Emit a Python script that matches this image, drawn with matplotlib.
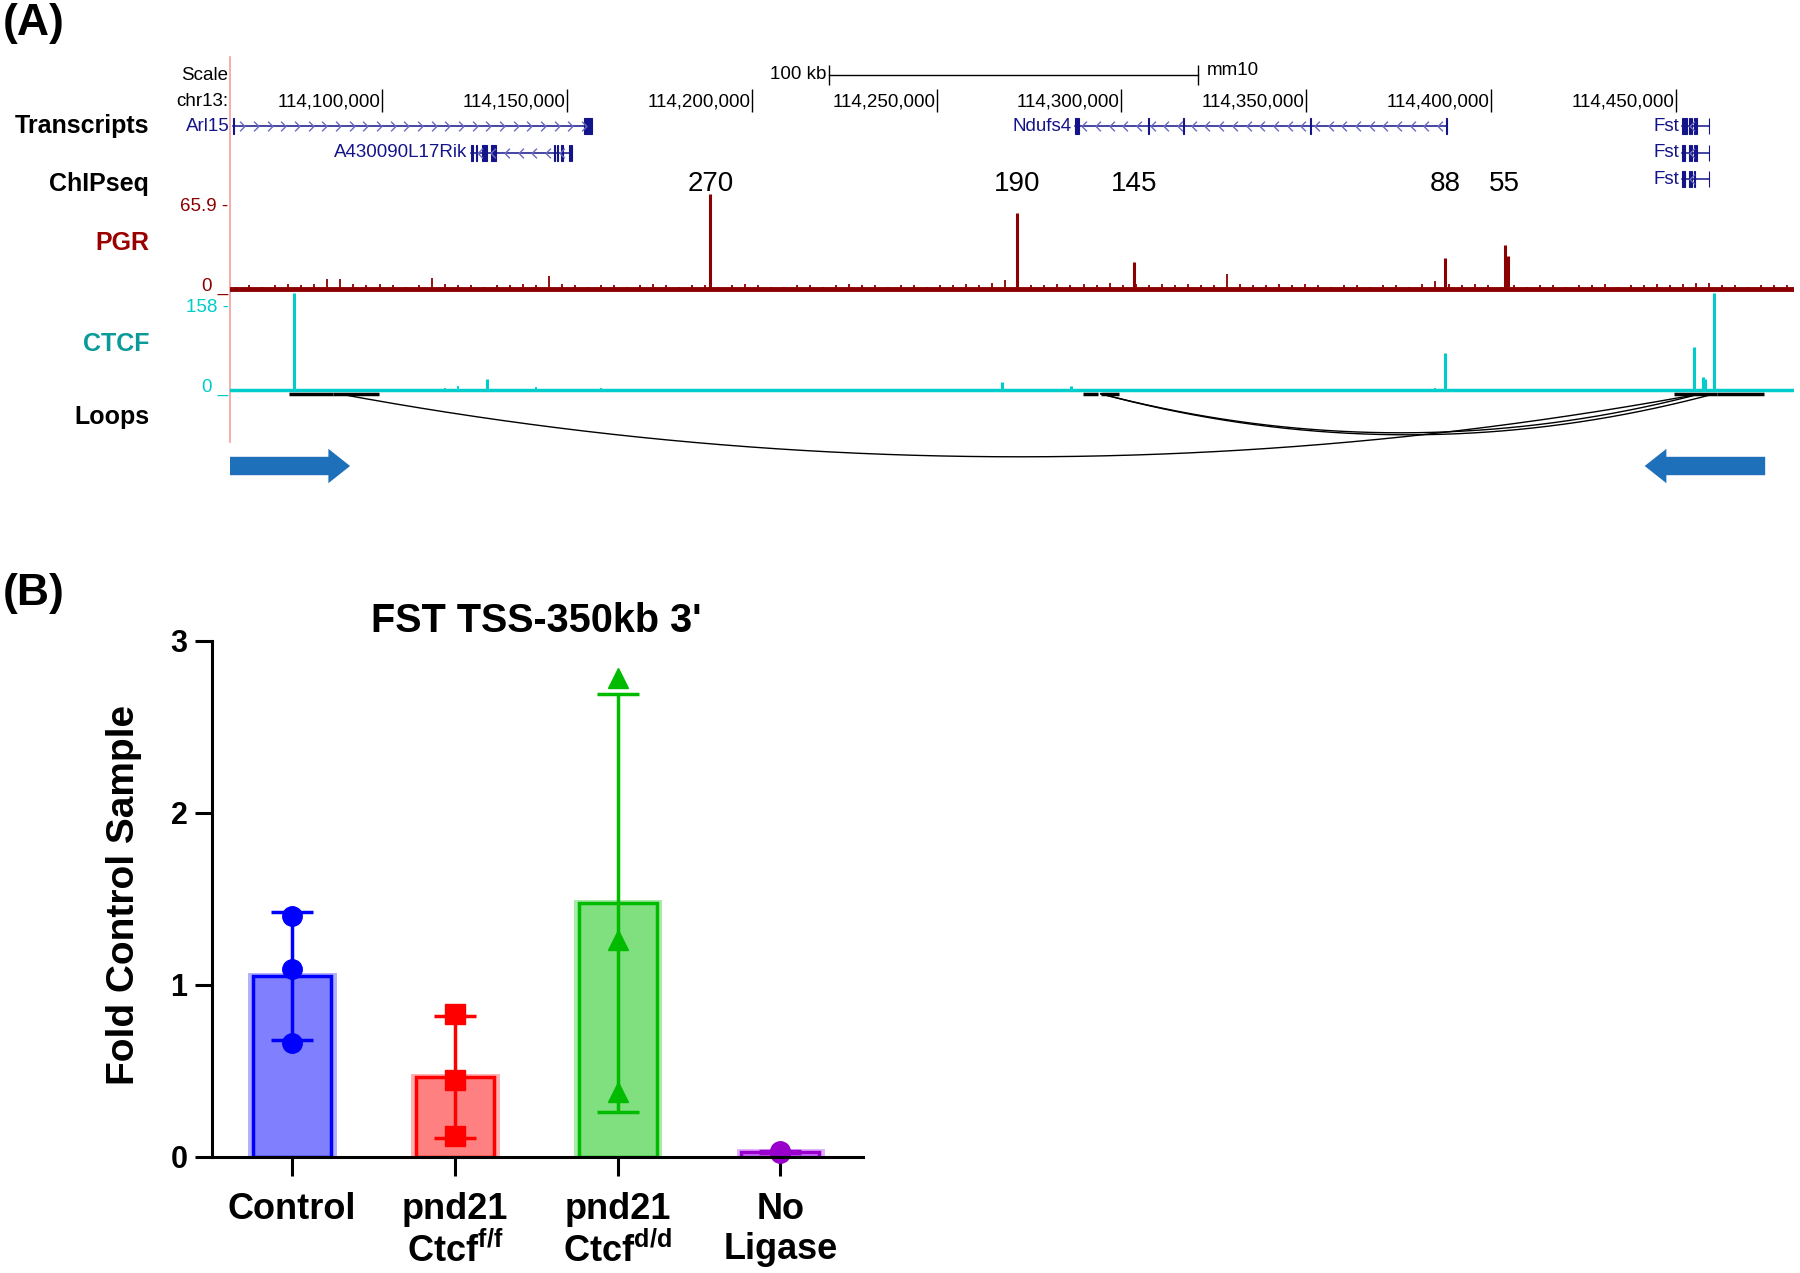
import numpy as np
import matplotlib

matplotlib.use('Agg')
import matplotlib.pyplot as plt
from matplotlib.path import Path
from matplotlib.patches import Rectangle, FancyArrow

plt.rcParams['font.family'] = ['Liberation Sans', 'DejaVu Sans']
plt.rcParams['mathtext.fontset'] = 'custom'
plt.rcParams['mathtext.rm'] = 'Liberation Sans'
plt.rcParams['mathtext.bf'] = 'Liberation Sans:bold'

# ---------------- (A) browser view, mm10 chr13 ----------------
win_start = 114058700
win_end = 114482000
ruler_ticks = [114100000, 114150000, 114200000, 114250000,
               114300000, 114350000, 114400000, 114450000]
scalebar_start = 114220800
scalebar_len = 100000

gene_names = ['Arl15', 'A430090L17Rik', 'Ndufs4', 'Fst', 'Fst', 'Fst']
gene_row = [0, 1, 0, 0, 1, 2]
gene_strand = ['+', '-', '-', '-', '-', '-']
gene_start = [114059600, 114123900, 114287500, 114451800, 114451800, 114451800]
gene_end = [114156800, 114151300, 114388000, 114459100, 114459100, 114459100]
gene_exons = [
    [(114059600, 114059800), (114154600, 114156800)],
    [(114123900, 114124500), (114125300, 114125600), (114126900, 114128300),
     (114129400, 114130800), (114146500, 114146700), (114147400, 114147600),
     (114148300, 114149000), (114150500, 114150700), (114151100, 114151300)],
    [(114287500, 114288600), (114307300, 114307500), (114316700, 114316900),
     (114351100, 114351300), (114387800, 114388000)],
    [(114451800, 114453100), (114453600, 114453800), (114454200, 114454400),
     (114454900, 114455100), (114455500, 114455700), (114458900, 114459100)],
    [(114451800, 114452600), (114453600, 114453800), (114454200, 114454400),
     (114454900, 114455100), (114455500, 114455700), (114458900, 114459100)],
    [(114451800, 114452600), (114453600, 114453800), (114454200, 114454400),
     (114454900, 114455100), (114458900, 114459100)],
]

# PGR ChIP-seq (scale 0-65.9)
pgr_max = 65.9
pgr_peak_pos = [114188800, 114271700, 114303400, 114387600, 114403700, 114404500]
pgr_peak_val = [76, 60.5, 22.6, 25.3, 36, 27]
pgr_peak_labels = ['270', '190', '145', '88', '55', '']
pgr_bg = [3, 4, 3, 4, 5, 4, 5, 9, 9, 5,
          4, 5, 4, 3, 4, 10, 5, 4, 4, 3,
          4, 4, 5, 4, 11, 5, 4, 3, 4, 4,
          3, 4, 5, 4, 3, 4, 4, 3, 4, 5,
          4, 3, 3, 4, 4, 3, 4, 5, 4, 4,
          3, 4, 4, 3, 4, 4, 5, 4, 6, 8,
          5, 4, 4, 5, 4, 5, 4, 6, 4, 5,
          4, 5, 4, 5, 4, 4, 13, 5, 4, 4,
          5, 4, 5, 4, 3, 4, 4, 3, 4, 4,
          3, 5, 7, 5, 4, 5, 4, 3, 4, 3,
          4, 4, 3, 4, 4, 5, 3, 4, 4, 5,
          4, 5, 6, 6, 4, 4, 3, 4, 4, 4]

# CTCF ChIP-seq (scale 0-158)
ctcf_max = 158
ctcf_peak_pos = [114076100, 114128300, 114267700, 114286500, 114387500,
                 114455000, 114457300, 114458000, 114460300]
ctcf_peak_val = [186, 24, 18, 11, 73, 84, 28, 24, 186]
ctcf_bg = [4, 3, 4, 3, 4, 3, 4, 5, 4, 3,
           4, 3, 4, 5, 4, 4, 6, 10, 4, 4,
           3, 4, 5, 8, 4, 4, 3, 5, 6, 4,
           3, 4, 3, 4, 4, 3, 4, 3, 4, 3,
           4, 3, 4, 4, 3, 4, 4, 3, 3, 4,
           3, 4, 3, 4, 4, 3, 4, 5, 4, 3,
           4, 4, 5, 4, 3, 4, 5, 4, 3, 4,
           4, 5, 4, 4, 3, 4, 4, 3, 4, 3,
           4, 3, 4, 4, 3, 4, 3, 4, 4, 3,
           4, 5, 6, 4, 3, 4, 4, 3, 4, 4,
           3, 4, 3, 4, 4, 5, 4, 3, 4, 4,
           5, 4, 5, 4, 4, 3, 4, 4, 3, 4]

# chromatin loops
anchor_start = [114074850, 114086650, 114289750, 114294400, 114449400, 114461200]
anchor_end = [114086650, 114099070, 114293600, 114299400, 114461200, 114473900]
loop_from = [114088200, 114294400, 114294400]
loop_to = [114456700, 114456700, 114460500]

# CTCF motif orientation arrows
arrow_tail = [114058700, 114474200]
arrow_head = [114091300, 114441600]

# ---------------- (B) 3C-qPCR ----------------
groups = ['Control', 'pnd21\nCtcf$^{\\mathbf{f/f}}$',
          'pnd21\nCtcf$^{\\mathbf{d/d}}$', 'No\nLigase']
control = [1.40, 1.09, 0.66]
ctcf_ff = [0.83, 0.45, 0.12]
ctcf_dd = [2.78, 1.26, 0.38]
no_ligase = [0.035, 0.03, 0.025]

edge_colors = ['#0000ff', '#ff0000', '#00bb00', '#9900cc']
fill_colors = ['#8080ff', '#ff8080', '#80e080', '#cc80ff']
halo_colors = ['#b0b0ff', '#ffb0b0', '#a8eaa8', '#e0b0ff']
markers = ['o', 's', '^', 'o']

fig = plt.figure(figsize=(18, 12.73), dpi=100)

# overlay in figure pixels for free labels
lab = fig.add_axes([0, 0, 1, 1])
lab.set_xlim(0, 1800)
lab.set_ylim(1273, 0)
lab.axis('off')

# genome axes: x in bp, y in figure pixel rows 0..500
gax = fig.add_axes([229.6 / 1800, 1 - 500 / 1273, (1794 - 229.6) / 1800, 500 / 1273])
gax.set_xlim(win_start, win_end)
gax.set_ylim(500, 0)
gax.axis('off')
gax.patch.set_alpha(0)

navy = '#14148a'
chev_col = '#6a6ac0'
pgr_col = '#8b0000'
ctcf_col = '#00cccc'
fs_small = 13.5

# left edge line
gax.plot([win_start, win_start], [57, 442], color='#f5a0a0', lw=1.2, clip_on=False)

# scale bar + ruler
sb_y = 74.6
gax.plot([scalebar_start, scalebar_start + scalebar_len], [sb_y, sb_y], color='black', lw=1)
gax.vlines([scalebar_start, scalebar_start + scalebar_len], 65, 85, color='black', lw=1)
gax.annotate('100 kb', (scalebar_start, sb_y), xytext=(-2, 0), textcoords='offset points',
             ha='right', va='center', fontsize=fs_small)
gax.annotate('mm10', (scalebar_start + scalebar_len, sb_y - 4), xytext=(6, 0),
             textcoords='offset points', ha='left', va='center', fontsize=fs_small)
gax.vlines(ruler_ticks, 89.5, 112.5, color='black', lw=1)
for t in ruler_ticks:
    gax.annotate(f'{t:,}', (t, 102), xytext=(-1, 0), textcoords='offset points',
                 ha='right', va='center', fontsize=fs_small)

# genes
row_y = [126.3, 152.7, 179.1]
exon_h = 16
chev_plus = Path([(-0.5, 1), (0.5, 0), (-0.5, -1)], [Path.MOVETO, Path.LINETO, Path.LINETO])
chev_minus = Path([(0.5, 1), (-0.5, 0), (0.5, -1)], [Path.MOVETO, Path.LINETO, Path.LINETO])
for name, row, strand, s, e, exons in zip(gene_names, gene_row, gene_strand,
                                          gene_start, gene_end, gene_exons):
    y = row_y[row]
    gax.plot([s, e], [y, y], color=navy, lw=1.1)
    ch = np.arange(s + 2500, e - 1500, 3700)
    gax.plot(ch, [y] * len(ch), ls='none', marker=chev_plus if strand == '+' else chev_minus,
             ms=7, mfc='none', mec=chev_col, mew=1.0)
    for a, b in exons:
        gax.add_patch(Rectangle((a, y - exon_h / 2), b - a, exon_h, facecolor=navy,
                                edgecolor=navy, lw=0.8))
    gax.annotate(name, (s, y), xytext=(-2.5, 0), textcoords='offset points',
                 ha='right', va='center', fontsize=fs_small, color=navy)

# signal tracks
track_h = 83.8
pgr_base = 290.4
ctcf_base = 391.5


def draw_track(bg, peak_pos, peak_val, vmax, base, color, base_lw):
    n = len(bg)
    step = (win_end - win_start) / n
    centers = win_start + (np.arange(n) + 0.5) * step
    gax.vlines(centers, base, base - np.array(bg) / vmax * track_h, color=color, lw=1.3)
    gax.plot([win_start, win_end], [base - 1.5, base - 1.5], color=color, lw=base_lw)
    gax.vlines(peak_pos, base, base - np.array(peak_val) / vmax * track_h, color=color, lw=2.2)


draw_track(pgr_bg, pgr_peak_pos, pgr_peak_val, pgr_max, pgr_base, pgr_col, 3.5)
draw_track(ctcf_bg, ctcf_peak_pos, ctcf_peak_val, ctcf_max, ctcf_base, ctcf_col, 2.5)

for p, txt in zip(pgr_peak_pos, pgr_peak_labels):
    gax.text(p, 183.7, txt, ha='center', va='center', fontsize=20)

# loops
anchor_y = 393.8
gax.hlines([anchor_y] * len(anchor_start), anchor_start, anchor_end, color='black', lw=2.5)
loop_depth = [63, 39, 41]
tt = np.linspace(0, 1, 200)
for a, b, d in zip(loop_from, loop_to, loop_depth):
    gax.plot(a + (b - a) * tt, anchor_y + 4 * d * tt * (1 - tt), color='black', lw=1)

# arrows
for a, b in zip(arrow_tail, arrow_head):
    gax.add_patch(FancyArrow(a, 466, b - a, 0, width=18.4, head_width=34.4,
                             head_length=abs(b - a) * 0.18, length_includes_head=True,
                             color='#1f70bb', lw=0))

# left side labels
lab.text(3, 24, '(A)', fontsize=32, fontweight='bold', ha='left', va='center')
lab.text(3, 594, '(B)', fontsize=32, fontweight='bold', ha='left', va='center')
lab.text(228.5, 75.8, 'Scale', ha='right', va='center', fontsize=fs_small)
lab.text(228.5, 102, 'chr13:', ha='right', va='center', fontsize=fs_small)
for txt, y, c in [('Transcripts', 126.3, 'black'), ('ChIPseq', 183.7, 'black'),
                  ('PGR', 243.4, '#9a0000'), ('CTCF', 344.4, '#0a9a9a'),
                  ('Loops', 416.7, 'black')]:
    lab.text(149, y, txt, ha='right', va='center', fontsize=18, fontweight='bold', color=c)
lab.text(228.5, 206.6, '65.9 -', ha='right', va='center', fontsize=fs_small, color=pgr_col)
lab.text(228.5, 291, '0 _', ha='right', va='baseline', fontsize=fs_small, color=pgr_col)
lab.text(228.5, 307.7, '158 -', ha='right', va='center', fontsize=fs_small, color=ctcf_col)
lab.text(228.5, 392, '0 _', ha='right', va='baseline', fontsize=fs_small, color=ctcf_col)

# ---------------- panel B ----------------
bx = fig.add_axes([212.4 / 1800, 1 - 1157 / 1273, 650.9 / 1800, (1157 - 640.6) / 1273])
samples = [control, ctcf_ff, ctcf_dd, no_ligase]
for i, pts in enumerate(samples):
    m = np.mean(pts)
    sd = np.std(pts, ddof=1)
    # soft outer rim like the Prism export
    bx.bar(i, m, width=0.5, color='none', edgecolor=halo_colors[i], lw=5, zorder=1.5)
    bx.bar(i, m, width=0.48, color=fill_colors[i], edgecolor=edge_colors[i], lw=2.5, zorder=2)
    bx.errorbar(i, m, yerr=sd, fmt='none', ecolor=edge_colors[i], elinewidth=2.5,
                capsize=15, capthick=2.5, zorder=3)
    bx.plot([i] * len(pts), pts, ls='none', marker=markers[i], ms=14,
            color=edge_colors[i], zorder=4, clip_on=False)

bx.set_xlim(-0.49, 3.51)
bx.set_ylim(0, 3)
bx.set_yticks([0, 1, 2, 3])
bx.set_xticks(range(len(groups)))
bx.set_xticklabels(groups, fontsize=26, fontweight='bold', linespacing=1.2)
for lbl in bx.get_yticklabels():
    lbl.set_fontsize(22)
    lbl.set_fontweight('bold')
bx.spines[['top', 'right']].set_visible(False)
bx.spines[['left', 'bottom']].set_linewidth(2.2)
bx.spines[['left', 'bottom']].set_zorder(5)
bx.tick_params(axis='y', length=12, width=2.2, pad=6)
bx.tick_params(axis='x', length=14, width=2.2, pad=11)
bx.patch.set_alpha(0)

lab.text(536, 621, "FST TSS-350kb 3'", ha='center', va='center', fontsize=28.5, fontweight='bold')
lab.text(124, 895, 'Fold Control Sample', ha='center', va='center', rotation=90,
         fontsize=28, fontweight='bold')

fig.savefig('out.png', dpi=100)
